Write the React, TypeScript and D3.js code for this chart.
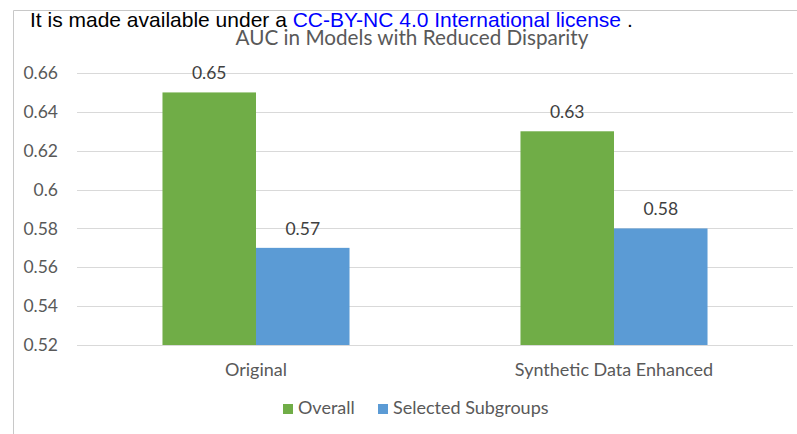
import * as d3 from "d3";
import { useEffect, useRef } from "react";

const categories = ["Original", "Synthetic Data Enhanced"];
const seriesNames = ["Overall", "Selected Subgroups"];
const overallValues = [0.65, 0.63];
const subgroupValues = [0.57, 0.58];
const yTicks = [0.52, 0.54, 0.56, 0.58, 0.6, 0.62, 0.64, 0.66];
const seriesColors = ["#70ad47", "#5b9bd5"];

const FONT = "Lato, 'Open Sans', sans-serif";
const TEXT_COLOR = "#595959";

function drawChart(svgElement: SVGSVGElement) {
  const width = 797;
  const height = 434;
  const svg = d3.select(svgElement);
  svg.selectAll("*").remove();
  svg.attr("width", width).attr("height", height).attr("viewBox", `0 0 ${width} ${height}`);

  const plot = { left: 77, right: 793, top: 73, bottom: 345 };

  // frame of the chart area (top + left edges visible)
  svg
    .append("path")
    .attr("d", `M13.5,${height} V10.5 H${width}`)
    .attr("fill", "none")
    .attr("stroke", "#c8c8c8")
    .attr("stroke-width", 1);

  const y = d3.scaleLinear().domain([0.52, 0.66]).range([plot.bottom, plot.top]);
  const x0 = d3.scaleBand().domain(categories).range([plot.left, plot.right]).padding(0);
  const x1 = d3
    .scaleBand()
    .domain(seriesNames)
    .range([0, x0.bandwidth()])
    .paddingInner(0)
    .paddingOuter(0.914);

  // gridlines
  svg
    .append("g")
    .selectAll("line")
    .data(yTicks)
    .join("line")
    .attr("x1", plot.left)
    .attr("x2", plot.right)
    .attr("y1", (d) => Math.round(y(d)) + 0.5)
    .attr("y2", (d) => Math.round(y(d)) + 0.5)
    .attr("stroke", "#d9d9d9")
    .attr("stroke-width", 1);

  // y tick labels
  svg
    .append("g")
    .selectAll("text")
    .data(yTicks)
    .join("text")
    .attr("x", 58)
    .attr("y", (d) => y(d))
    .attr("dy", "0.35em")
    .attr("text-anchor", "end")
    .attr("font-family", FONT)
    .attr("font-size", 17.5)
    .attr("fill", TEXT_COLOR)
    .text((d) => d3.format("")(+d.toFixed(2)));

  const rows = categories.map((c, i) => ({
    category: c,
    values: [overallValues[i], subgroupValues[i]],
  }));

  const groups = svg
    .append("g")
    .selectAll("g")
    .data(rows)
    .join("g")
    .attr("transform", (d) => `translate(${x0(d.category)},0)`);

  const cells = groups
    .selectAll("g")
    .data((d) => d.values.map((v, j) => ({ name: seriesNames[j], value: v, j })))
    .join("g");

  cells
    .append("rect")
    .attr("x", (d) => x1(d.name) as number)
    .attr("y", (d) => y(d.value))
    .attr("width", x1.bandwidth())
    .attr("height", (d) => y(0.52) - y(d.value))
    .attr("fill", (d) => seriesColors[d.j]);

  cells
    .append("text")
    .attr("x", (d) => (x1(d.name) as number) + x1.bandwidth() / 2)
    .attr("y", (d) => y(d.value) - 13)
    .attr("text-anchor", "middle")
    .attr("font-family", FONT)
    .attr("font-size", 17.5)
    .attr("fill", "#404040")
    .text((d) => d.value.toFixed(2));

  // category labels
  svg
    .append("g")
    .selectAll("text")
    .data(categories)
    .join("text")
    .attr("x", (d) => (x0(d) as number) + x0.bandwidth() / 2)
    .attr("y", 376)
    .attr("text-anchor", "middle")
    .attr("font-family", FONT)
    .attr("font-size", 18)
    .attr("fill", TEXT_COLOR)
    .text((d) => d);

  // legend
  const legendX = [283, 378];
  const legend = svg
    .append("g")
    .selectAll("g")
    .data(seriesNames)
    .join("g")
    .attr("transform", (_d, i) => `translate(${legendX[i]},404)`);
  legend
    .append("rect")
    .attr("width", 10)
    .attr("height", 10)
    .attr("fill", (_d, i) => seriesColors[i]);
  legend
    .append("text")
    .attr("x", 15)
    .attr("y", 10)
    .attr("font-family", FONT)
    .attr("font-size", 18)
    .attr("fill", TEXT_COLOR)
    .text((d) => d);

  // title
  svg
    .append("text")
    .attr("x", 412)
    .attr("y", 45)
    .attr("text-anchor", "middle")
    .attr("font-family", FONT)
    .attr("font-size", 20.7)
    .attr("fill", TEXT_COLOR)
    .text("AUC in Models with Reduced Disparity");

  // license line overlaid on top
  const lic = svg
    .append("text")
    .attr("x", 30)
    .attr("y", 27)
    .attr("font-family", "'Liberation Sans', Arial, sans-serif")
    .attr("font-size", 21)
    .attr("fill", "#000");
  lic.append("tspan").text("It is made available under a ");
  lic.append("tspan").attr("fill", "#0000ff").text("CC-BY-NC 4.0 International license");
  lic.append("tspan").text(" .");
}

export default function App() {
  const svgRef = useRef<SVGSVGElement>(null);

  useEffect(() => {
    if (svgRef.current) drawChart(svgRef.current);
  }, []);

  return (
    <svg
      ref={svgRef}
      role="img"
      aria-label="AUC in Models with Reduced Disparity"
      style={{ position: "absolute", left: 0, top: 0, background: "#fff" }}
    />
  );
}
